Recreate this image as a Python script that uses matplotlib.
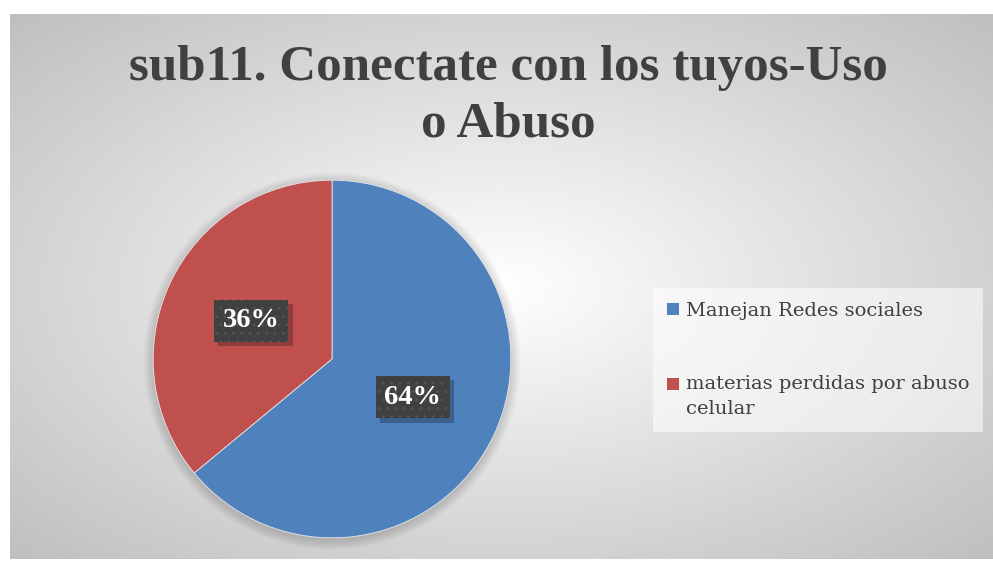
import numpy as np
import matplotlib.pyplot as plt
import matplotlib.patheffects as pe
from matplotlib.patches import Circle, Rectangle
from matplotlib.legend_handler import HandlerPatch

plt.rcParams["hatch.linewidth"] = 0.4

# chart data
categories = ["Manejan Redes sociales", "materias perdidas por abuso\ncelular"]
values = [64, 36]
colors = ["#4f81bd", "#c0504d"]
title_lines = ["sub11. Conectate con los tuyos-Uso", "o Abuso"]

W, H = 993, 561
fig = plt.figure(figsize=(W / 100, H / 100), dpi=100)
fig.patch.set_facecolor("white")

# radial gradient background of the chart area
bg = fig.add_axes([10 / W, 2 / H, 983 / W, 545 / H])
xx, yy = np.meshgrid(np.linspace(-1, 1, 400), np.linspace(-1, 1, 240))
dist = np.sqrt(xx ** 2 + yy ** 2) / np.sqrt(2)
shade = 1.0 - 0.25 * dist
bg.imshow(np.dstack([shade, shade, shade]), aspect="auto", extent=[0, 1, 0, 1])
bg.set_axis_off()

# pie
ax = fig.add_axes([153 / W, (H - 538) / H, 358 / W, 358 / H])
for i in range(10):
    ax.add_patch(Circle((0.0, -0.012), 1 + 0.006 * i, color="black", alpha=0.016,
                        lw=0, clip_on=False))
wedges, _, autotexts = ax.pie(values, colors=colors, startangle=90, counterclock=False,
                              autopct="%1.0f%%", pctdistance=0.5,
                              wedgeprops=dict(edgecolor="#e8e8e8", linewidth=0.6))
ax.set_xlim(-1.001, 1.001)
ax.set_ylim(-1.001, 1.001)

for t in autotexts:
    t.set_family("Liberation Serif")
    t.set_fontweight("bold")
    t.set_fontsize(20.5)
    t.set_color("white")
    t.set_bbox(dict(boxstyle="square,pad=0.31", facecolor="#404040",
                    edgecolor="#5a5a5a", linewidth=0, hatch=".."))
    t.get_bbox_patch().set_path_effects(
        [pe.SimplePatchShadow(offset=(3, -3), shadow_rgbFace="black", alpha=0.25), pe.Normal()])

# title
fig.text(508 / W, 1 - 80 / H, title_lines[0], ha="center", va="baseline",
         family="Liberation Serif", fontweight="bold", fontsize=36.7, color="#404040")
fig.text(508 / W, 1 - 137 / H, title_lines[1], ha="center", va="baseline",
         family="Liberation Serif", fontweight="bold", fontsize=36.7, color="#404040")


# legend marker sits on the first line of a wrapped label
def first_line_patch(legend, orig_handle, xdescent, ydescent, width, height, fontsize):
    return Rectangle((-xdescent, -ydescent + 9.4), width, height)


leg = fig.legend(wedges, categories, loc="upper left",
                 bbox_to_anchor=(653 / W, 1 - 288 / H), borderaxespad=0,
                 frameon=True, fancybox=False, facecolor="white", framealpha=0.55,
                 edgecolor="none", prop=dict(family="DejaVu Serif", size=14),
                 handlelength=0.62, handleheight=0.62, handletextpad=0.35,
                 labelspacing=2.83, borderpad=0.72,
                 handler_map={wedges[1]: HandlerPatch(patch_func=first_line_patch)})
for txt in leg.get_texts():
    txt.set_color("#404040")
    txt.set_linespacing(1.53)
for h in leg.legend_handles:
    h.set_edgecolor("none")

fig.savefig("out.png", dpi=100)
